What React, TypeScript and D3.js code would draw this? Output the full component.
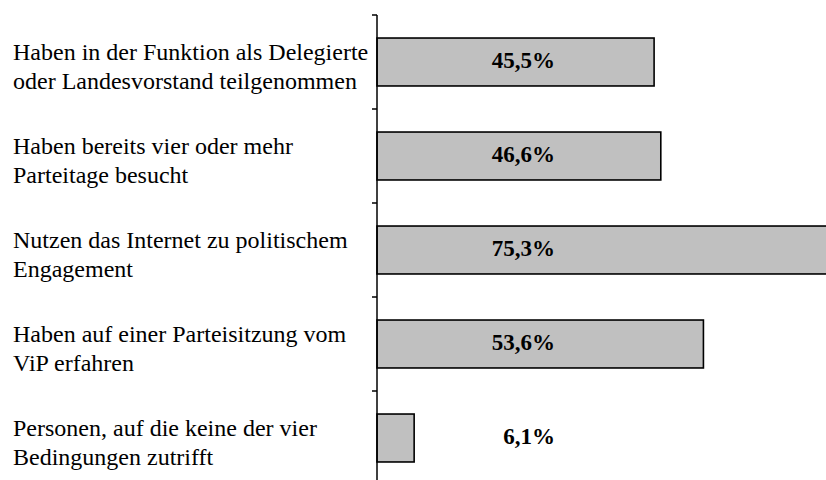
import React, { Component } from 'react';
import * as d3 from 'd3';

const categories = [
  ['Haben in der Funktion als Delegierte', 'oder Landesvorstand teilgenommen'],
  ['Haben bereits vier oder mehr', 'Parteitage besucht'],
  ['Nutzen das Internet zu politischem', 'Engagement'],
  ['Haben auf einer Parteisitzung vom', 'ViP erfahren'],
  ['Personen, auf die keine der vier', 'Bedingungen zutrifft']
];
const values = [45.5, 46.6, 75.3, 53.6, 6.1];
const valueLabels = ['45,5%', '46,6%', '75,3%', '53,6%', '6,1%'];

class App extends Component {
  svgRef = React.createRef<SVGSVGElement>();

  componentDidMount() {
    this.draw();
  }

  draw() {
    const height = 480;
    const svg = d3.select(this.svgRef.current);
    svg.selectAll('*').remove();

    const idx = d3.range(categories.length);
    const y = d3.scaleBand<number>()
      .domain(idx)
      .range([15, 485])
      .paddingInner(0.49)
      .paddingOuter(0.245);
    const x = d3.scaleLinear().domain([0, 100]).range([377, 377 + 609]);

    // bars
    svg.append('g').selectAll('rect')
      .data(idx)
      .enter().append('rect')
        .attr('x', x(0))
        .attr('y', (i) => y(i))
        .attr('width', (i) => x(values[i]) - x(0))
        .attr('height', y.bandwidth())
        .style('fill', '#c0c0c0')
        .style('stroke', '#000')
        .style('stroke-width', 1.6);

    // axis line + ticks at band boundaries
    const step = y.step();
    const tickYs = d3.range(categories.length + 1).map((k) => 15 + k * step);
    svg.append('line')
      .attr('x1', x(0)).attr('x2', x(0))
      .attr('y1', 15).attr('y2', height)
      .style('stroke', '#000')
      .style('stroke-width', 1.5);
    svg.append('g').selectAll('line')
      .data(tickYs)
      .enter().append('line')
        .attr('x1', x(0) - 5).attr('x2', x(0))
        .attr('y1', (d) => d).attr('y2', (d) => d)
        .style('stroke', '#000')
        .style('stroke-width', 1.5);

    // category labels
    const labels = svg.append('g').selectAll('text')
      .data(idx)
      .enter().append('text')
        .attr('x', 13)
        .attr('y', (i) => y(i) + y.bandwidth() / 2 - 2)
        .style('font-family', '"Liberation Serif", "Times New Roman", serif')
        .style('font-size', '24px')
        .attr('fill', '#000');
    labels.append('tspan')
      .attr('x', 13)
      .attr('dy', 0)
      .text((i) => categories[i][0]);
    labels.append('tspan')
      .attr('x', 13)
      .attr('dy', 29)
      .text((i) => categories[i][1]);

    // value labels
    svg.append('g').selectAll('text')
      .data(idx)
      .enter().append('text')
        .attr('x', 555)
        .attr('y', (i) => y(i) + y.bandwidth() / 2 + 6)
        .attr('text-anchor', 'end')
        .style('font-family', '"Liberation Serif", "Times New Roman", serif')
        .style('font-weight', 'bold')
        .style('font-size', '23px')
        .attr('fill', '#000')
        .text((i) => valueLabels[i]);
  }

  render() {
    return (
      <svg
        ref={this.svgRef}
        width={826}
        height={480}
        style={{ position: 'absolute', left: 0, top: 0, background: '#fff' }}
      />
    );
  }
}

export default App;
